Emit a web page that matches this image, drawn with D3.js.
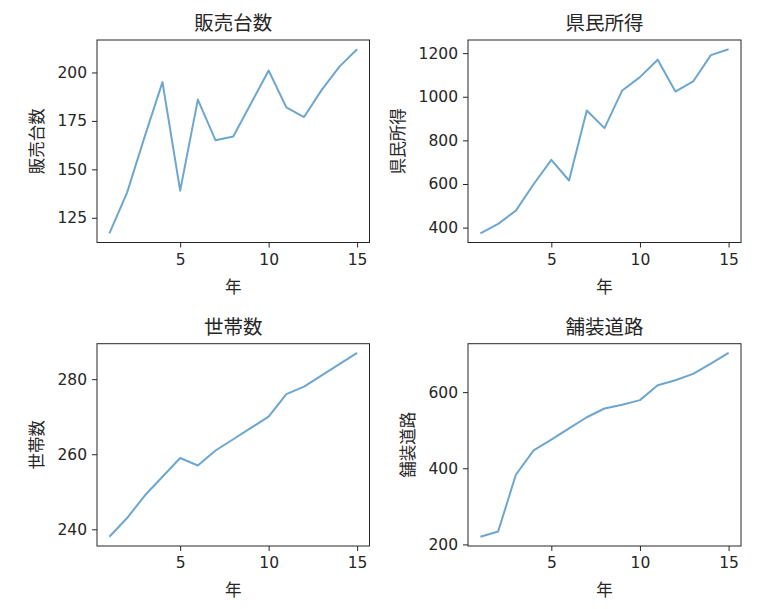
<!DOCTYPE html>
<html>
<head>
<meta charset="utf-8">
<script src="https://cdn.jsdelivr.net/npm/d3@7"></script>
<style>
  html, body { margin: 0; padding: 0; background: #fff; }
  svg { display: block; }
  text { font-family: "DejaVu Sans", "Noto Sans CJK JP", sans-serif; fill: #262626; }
</style>
</head>
<body>
<svg id="chart" width="764" height="609"></svg>
<script>
// ---- data ----
const years = [1,2,3,4,5,6,7,8,9,10,11,12,13,14,15];
const sales = [117,138,167,195,139,186,165,167,184,201,182,177,191,203,212];
const income = [374,417,478,599,711,616,937,856,1029,1090,1170,1024,1070,1191,1218];
const households = [238,243,249,254,259,257,261,264,267,270,276,278,281,284,287];
const pavedRoads = [220,234,383,447,475,505,534,557,567,579,618,631,648,675,703];

const titles = ["販売台数", "県民所得", "世帯数", "舗装道路"];
const xLabel = "年";
const xTicks = [5, 10, 15];
const salesTicks = [125, 150, 175, 200];
const incomeTicks = [400, 600, 800, 1000, 1200];
const householdTicks = [240, 260, 280];
const roadTicks = [200, 400, 600];

// ---- layout ----
const cols = [[97, 369.5], [468, 741]];
const rows = [[40, 242.5], [343.7, 546]];

const panels = [
  { values: sales, ticks: salesTicks, title: titles[0], col: 0, row: 0 },
  { values: income, ticks: incomeTicks, title: titles[1], col: 1, row: 0 },
  { values: households, ticks: householdTicks, title: titles[2], col: 0, row: 1 },
  { values: pavedRoads, ticks: roadTicks, title: titles[3], col: 1, row: 1 }
];

const svg = d3.select("#chart");
const lineColor = "#1f77b4";

panels.forEach(p => {
  const [x0, x1] = cols[p.col];
  const [y0, y1] = rows[p.row];

  const xExt = d3.extent(years);
  const xPad = (xExt[1] - xExt[0]) * 0.05;
  const x = d3.scaleLinear().domain([xExt[0] - xPad, xExt[1] + xPad]).range([x0, x1]);

  const yExt = d3.extent(p.values);
  const yPad = (yExt[1] - yExt[0]) * 0.05;
  const y = d3.scaleLinear().domain([yExt[0] - yPad, yExt[1] + yPad]).range([y1, y0]);

  const g = svg.append("g");

  // line
  const line = d3.line().x((d, i) => x(years[i])).y(d => y(d));
  g.append("path")
    .datum(p.values)
    .attr("d", line)
    .attr("fill", "none")
    .attr("stroke", lineColor)
    .attr("stroke-opacity", 0.65)
    .attr("stroke-width", 2)
    .attr("stroke-linejoin", "round");

  // x axis
  const xAxis = g.append("g")
    .attr("transform", `translate(0,${y1})`)
    .call(d3.axisBottom(x).tickValues(xTicks).tickSize(5).tickPadding(6).tickFormat(d3.format("d")));
  xAxis.select(".domain").remove();
  xAxis.selectAll("line").attr("stroke", "#262626").attr("stroke-width", 1);
  xAxis.selectAll("text").style("font-size", "15.5px").attr("fill", "#262626");

  // y axis
  const yAxis = g.append("g")
    .attr("transform", `translate(${x0},0)`)
    .call(d3.axisLeft(y).tickValues(p.ticks).tickSize(5).tickPadding(5).tickFormat(d3.format("d")));
  yAxis.select(".domain").remove();
  yAxis.selectAll("line").attr("stroke", "#262626").attr("stroke-width", 1);
  yAxis.selectAll("text").style("font-size", "15.5px").attr("fill", "#262626");

  // frame
  g.append("rect")
    .attr("x", x0).attr("y", y0)
    .attr("width", x1 - x0).attr("height", y1 - y0)
    .attr("fill", "none")
    .attr("stroke", "#262626")
    .attr("stroke-width", 1);

  // title
  g.append("text")
    .attr("x", (x0 + x1) / 2)
    .attr("y", y0 - 10)
    .attr("text-anchor", "middle")
    .style("font-size", "19.5px")
    .text(p.title);

  // x label
  g.append("text")
    .attr("x", (x0 + x1) / 2)
    .attr("y", y1 + 50)
    .attr("text-anchor", "middle")
    .style("font-size", "16.5px")
    .text(xLabel);

  // y label, positioned left of tick labels
  let minX = Infinity;
  yAxis.selectAll("text").each(function() {
    const b = this.getBBox();
    const m = this.getCTM();
    minX = Math.min(minX, b.x + m.e);
  });
  const lx = minX - 20;
  g.append("text")
    .attr("transform", `translate(${lx},${(y0 + y1) / 2}) rotate(-90)`)
    .attr("text-anchor", "middle")
    .attr("dy", "0.35em")
    .style("font-size", "16.5px")
    .text(p.title);
});
</script>
</body>
</html>
